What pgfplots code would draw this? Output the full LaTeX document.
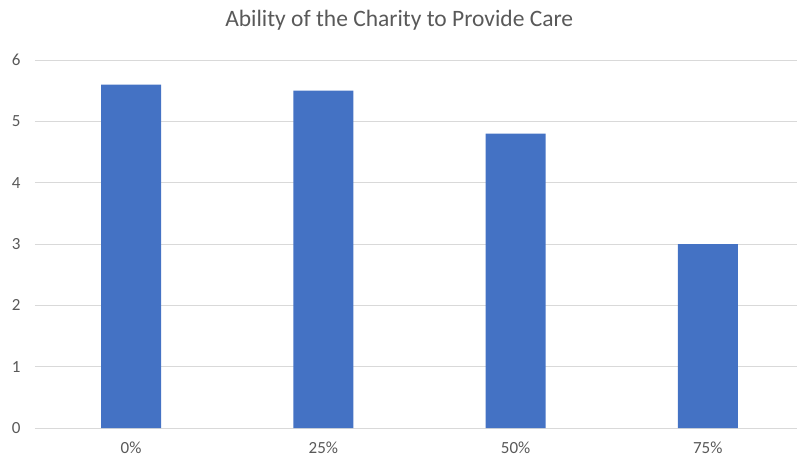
\documentclass[border=0pt]{standalone}
\usepackage{pgfplots}
\pgfplotsset{compat=1.18}
\usepackage{fontspec}
\setmainfont{Carlito}
\definecolor{barblue}{HTML}{4472C4}
\definecolor{gridgray}{HTML}{D9D9D9}
\definecolor{txtgray}{HTML}{595959}
\begin{document}
\begin{tikzpicture}[x=1pt,y=1pt]
\useasboundingbox (0,0) rectangle (797,459);
\begin{axis}[
  at={(35pt,31pt)}, anchor=south west,
  scale only axis,
  width=762pt, height=368pt,
  xmin=-0.5, xmax=3.464,
  ymin=0, ymax=6,
  ytick={0,1,...,6},
  xtick={0,1,2,3},
  xticklabels={0\%,25\%,50\%,75\%},
  ybar, bar width=60pt,
  axis line style={draw=none},
  axis x line*=bottom,
  x axis line style={draw=gridgray, line width=1pt},
  tick style={draw=none},
  ymajorgrids, grid style={gridgray, line width=1pt},
  ticklabel style={font=\fontsize{17}{20}\selectfont, text=txtgray},
  /pgf/number format/assume math mode=true,
  yticklabel style={xshift=-11pt},
  xticklabel style={yshift=-6pt},
  title={Ability of the Charity to Provide Care},
  title style={font=\fontsize{23.5}{28}\selectfont, text=txtgray, at={(0.478,1)}, yshift=20pt},
  clip=false,
]
\addplot[fill=barblue, draw=none] coordinates {(0,5.6) (1,5.5) (2,4.8) (3,3.0)};
\end{axis}
\end{tikzpicture}
\end{document}
